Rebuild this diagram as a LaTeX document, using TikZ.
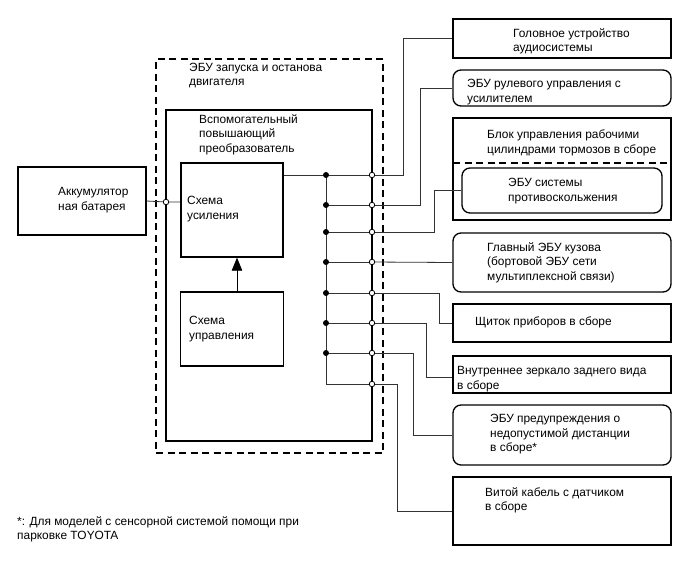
\documentclass[tikz,border=0pt]{standalone}
\usepackage{fontspec}
\setmainfont{Liberation Sans}
\usetikzlibrary{arrows.meta}
\begin{document}
\begin{tikzpicture}[x=1pt,y=-1pt,
  box/.style={draw,line width=1.3pt,inner sep=0pt},
  rbox/.style={box,rounded corners=8pt},
  txt/.style={inner sep=0pt,align=left,anchor=west,font=\fontsize{11.9}{14.5}\selectfont},
  wire/.style={line width=0.8pt,black!80},
  odot/.style={circle,draw,fill=white,line width=0.8pt,inner sep=0pt,minimum size=5.5pt},
  bdot/.style={circle,fill,inner sep=0pt,minimum size=6pt},
  dbox/.style={draw,line width=1.3pt,dash pattern=on 7pt off 4.5pt,inner sep=0pt},
]
\useasboundingbox (0,0) rectangle (688,560);
% ECU dashed box
\node[dbox,minimum width=227pt,minimum height=394pt] (ecu) at (269.5,256) {};
\node[txt] (ecut) at (189,75.5) {ЭБУ запуска и останова\\двигателя};
% converter
\node[box,minimum width=206pt,minimum height=331pt] (conv) at (269,275.5) {};
\node[txt] (convt) at (199,134.5) {Вспомогательный\\повышающий\\преобразователь};
% amplifier
\node[box,minimum width=102pt,minimum height=94pt] (amp) at (232,210) {};
\node[txt] (ampt) at (187,209) {Схема\\усиления};
% control
\node[box,minimum width=103pt,minimum height=74pt] (ctrl) at (232,329) {};
\node[txt] (ctrlt) at (189,329) {Схема\\управления};
\draw[line width=0.8pt,-{Triangle[length=13pt,width=10.5pt]}] ([xshift=5pt]ctrl.north) -- ([xshift=5pt]amp.south);
% battery
\node[box,minimum width=128pt,minimum height=68pt] (bat) at (82,201) {};
\node[txt] (batt) at (58,200) {Аккумулятор\\ная батарея};
\coordinate (bin) at (166,202);
\draw[wire] (bat.east) -- (bin) -- (amp.west |- bin);
\node[odot] (bind) at (bin) {};
% right boxes
\node[box,minimum width=218pt,minimum height=39pt] (head) at (562,38.5) {};
\node[txt] (headt) at (513,41.5) {Головное устройство\\аудиосистемы};
\node[rbox,minimum width=218pt,minimum height=36pt] (steer) at (562,88) {};
\node[txt] (steert) at (467,92) {ЭБУ рулевого управления с\\усилителем};
\node[box,minimum width=218pt,minimum height=102pt] (blok) at (562,169) {};
\node[txt] (blokt) at (487,143) {Блок управления рабочими\\цилиндрами тормозов в сборе};
\coordinate (bl) at (453,163);
\coordinate (br) at (671,163);
\draw[line width=1.3pt,dash pattern=on 7pt off 4.5pt] (bl) -- (br);
\node[rbox,minimum width=200pt,minimum height=45pt] (abs) at (562,190.5) {};
\node[txt] (abst) at (508,191) {ЭБУ системы\\противоскольжения};
\node[rbox,minimum width=218pt,minimum height=59pt] (glav) at (562,262.5) {};
\node[txt] (glavt) at (487,262.5) {Главный ЭБУ кузова\\(бортовой ЭБУ сети\\мультиплексной связи)};
\node[box,minimum width=218pt,minimum height=38pt] (shch) at (562,323) {};
\node[txt] (shcht) at (475,322) {Щиток приборов в сборе};
\node[box,minimum width=218pt,minimum height=37pt] (mirr) at (562,374.5) {};
\node[txt] (mirrt) at (457,379) {Внутреннее зеркало заднего вида\\в сборе};
\node[rbox,minimum width=218pt,minimum height=60pt] (warn) at (562,435) {};
\node[txt] (warnt) at (490,434.5) {ЭБУ предупреждения о\\недопустимой дистанции\\в сборе*};
\node[box,minimum width=218pt,minimum height=68pt] (vit) at (562,511) {};
\node[txt] (vitt) at (485,500.5) {Витой кабель с датчиком\\в сборе};
% footnote
\node[txt,font=\fontsize{11.9}{13.5}\selectfont] (foot) at (17,529.5) {*: Для моделей с сенсорной системой помощи при\\парковке TOYOTA};
% bus
\foreach \i/\y in {1/175,2/205,3/232,4/262,5/293,6/323,7/353,8/384}{
  \coordinate (o\i) at (372,\y);
  \coordinate (b\i) at (326,\y);
}
\draw[wire] (amp.east |- o1) -- (b1);
\draw[wire] (b1) -- (b8) -- (o8);
\foreach \i in {1,...,7}{ \draw[wire] (b\i) -- (o\i); }
% connectors
\draw[wire] (o1) -- (403,175) |- (head.west);
\draw[wire] (o2) -- (420,205) |- (steer.west);
\draw[wire] (o3) -- (434,232) |- (abs.west);
\draw[wire] (o4) -- (glav.west);
\draw[wire] (o5) -- (439,293) |- (shch.west);
\draw[wire] (o6) -- (426,323) |- ([yshift=-2.5pt]mirr.west);
\draw[wire] (o7) -- (413,353) |- (warn.west);
\draw[wire] (o8) -- (397,384) |- (vit.west);
\foreach \i in {1,...,7}{ \node[bdot] (bd\i) at (b\i) {}; }
\foreach \i in {1,...,8}{ \node[odot] (od\i) at (o\i) {}; }
\end{tikzpicture}
\end{document}
